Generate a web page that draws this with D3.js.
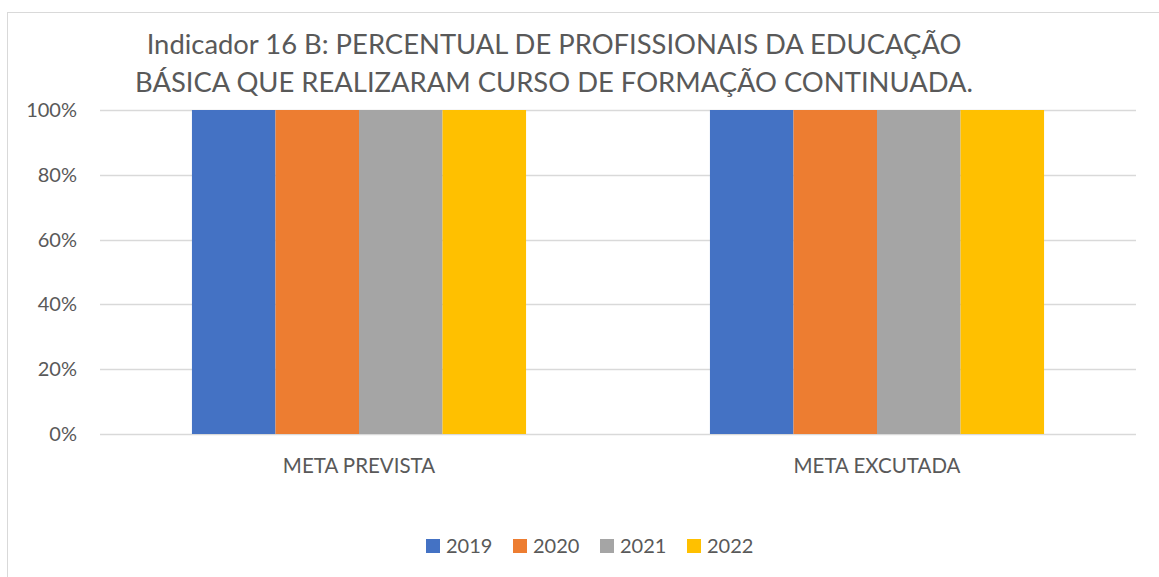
<!DOCTYPE html>
<html>
<head>
<meta charset="utf-8">
<script src="https://cdn.jsdelivr.net/npm/d3@7"></script>
<style>
  body { margin: 0; background: #fff; }
  text { font-family: "Lato", "Open Sans", sans-serif; fill: #595959; }
</style>
</head>
<body>
<div id="chart"></div>
<script>
// ---------- data ----------
var categories = ["META PREVISTA", "META EXCUTADA"];
var years = ["2019", "2020", "2021", "2022"];
var values = [
  [1.0, 1.0, 1.0, 1.0],   // META PREVISTA
  [1.0, 1.0, 1.0, 1.0]    // META EXCUTADA
];
var yTicks = [0, 0.2, 0.4, 0.6, 0.8, 1.0];
var colors = ["#4472c4", "#ed7d31", "#a5a5a5", "#ffc000"];
var titleLines = ["Indicador 16 B: PERCENTUAL DE PROFISSIONAIS DA EDUCAÇÃO",
                  "BÁSICA QUE REALIZARAM CURSO DE FORMAÇÃO CONTINUADA."];

var width = 1159, height = 577;
var plot = {left: 100, right: 1136, top: 110, bottom: 434};

var svg = d3.select("#chart").append("svg")
    .attr("width", width)
    .attr("height", height);

// chart border
svg.append("rect")
    .attr("x", 7.5).attr("y", 12.5)
    .attr("width", width + 10).attr("height", height)
    .style("fill", "none")
    .style("stroke", "#d9d9d9")
    .style("stroke-width", 1);

// ---------- title ----------
svg.selectAll(".title").data(titleLines).enter().append("text")
    .attr("class", "title")
    .attr("x", 554)
    .attr("y", function(d, i) { return 54 + i * 38; })
    .attr("text-anchor", "middle")
    .style("font-size", "27.4px")
    .text(function(d) { return d; });

// ---------- scales ----------
var x0 = d3.scaleBand().domain(categories).range([plot.left, plot.right]);
var groupW = x0.bandwidth() * 0.645;
var x1 = d3.scaleBand().domain(years)
    .range([(x0.bandwidth() - groupW) / 2, (x0.bandwidth() + groupW) / 2]);
var y = d3.scaleLinear().domain([0, 1]).range([plot.bottom, plot.top]);
var color = d3.scaleOrdinal().domain(years).range(colors);

// gridlines
svg.selectAll(".grid").data(yTicks).enter().append("line")
    .attr("class", "grid")
    .attr("x1", plot.left).attr("x2", plot.right)
    .attr("y1", function(d) { return Math.round(y(d)) + 0.5; })
    .attr("y2", function(d) { return Math.round(y(d)) + 0.5; })
    .style("stroke", "#d9d9d9")
    .style("stroke-width", 1.5);

// y axis labels
svg.selectAll(".ylab").data(yTicks).enter().append("text")
    .attr("class", "ylab")
    .attr("x", 77)
    .attr("y", function(d) { return y(d); })
    .attr("dy", "0.35em")
    .attr("text-anchor", "end")
    .style("font-size", "20px")
    .text(d3.format(".0%"));

// ---------- bars ----------
var groups = svg.selectAll(".group").data(categories).enter().append("g")
    .attr("class", "group")
    .attr("transform", function(d) { return "translate(" + x0(d) + ",0)"; });

groups.selectAll("rect")
    .data(function(d, i) { return years.map(function(yr, j) { return {year: yr, value: values[i][j]}; }); })
    .enter().append("rect")
    .attr("x", function(d) { return x1(d.year); })
    .attr("y", function(d) { return y(d.value); })
    .attr("width", x1.bandwidth())
    .attr("height", function(d) { return y(0) - y(d.value); })
    .attr("fill", function(d) { return color(d.year); });

// category labels
svg.selectAll(".xlab").data(categories).enter().append("text")
    .attr("class", "xlab")
    .attr("x", function(d) { return x0(d) + x0.bandwidth() / 2; })
    .attr("y", 473)
    .attr("text-anchor", "middle")
    .style("font-size", "20.5px")
    .text(function(d) { return d; });

// ---------- legend ----------
var legend = svg.selectAll(".legend").data(years).enter().append("g")
    .attr("class", "legend")
    .attr("transform", function(d, i) { return "translate(" + (426 + i * 87) + ",539)"; });

legend.append("rect")
    .attr("width", 14).attr("height", 14)
    .attr("fill", function(d) { return color(d); });

legend.append("text")
    .attr("x", 20).attr("y", 14)
    .style("font-size", "20px")
    .text(function(d) { return d; });
</script>
</body>
</html>
